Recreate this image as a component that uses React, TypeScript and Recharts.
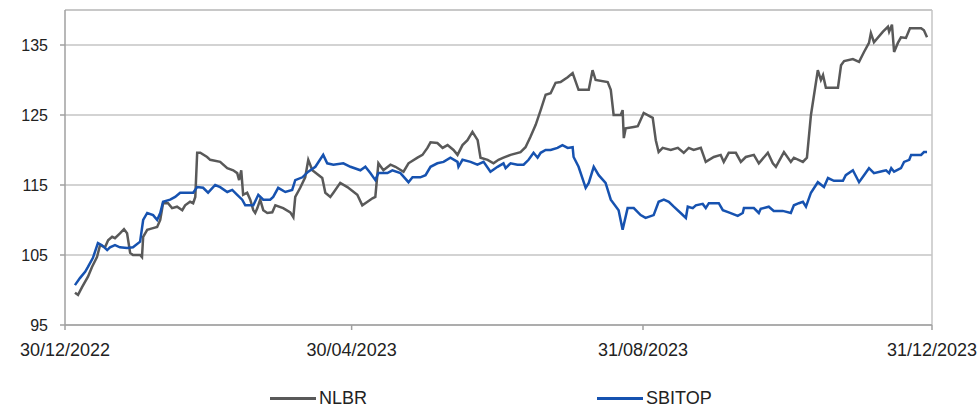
import React from 'react';
import { LineChart, Line, XAxis, YAxis, CartesianGrid, Legend, ReferenceLine } from 'recharts';

// x = days since 30/12/2022
const nlbrDays = [4.2,5.5,7.2,9.7,11.4,13.5,14.8,16.9,18.2,19.9,21.1,23.2,24.9,26.2,27.5,28.7,31.7,32.5,33,34.7,36.8,38.9,40.2,41.4,43.5,45.2,47.3,49.5,50.7,52.8,54.1,55,55.8,57.1,60,61.3,65.5,68.5,71,72.7,73.5,74.4,75.2,76.9,78.2,79.5,80.3,81.2,82.4,83.7,85.4,87.5,88.8,92.1,95.1,96.4,97.2,99.3,101.4,102.7,104.4,108.6,109.9,112,113.3,116.2,119.2,123.4,125.5,127.7,129.8,131,132.3,134.4,137.4,139.5,142.9,145,148.8,150.9,153,154.3,157.2,159.4,161.5,164,165.7,167.8,169.9,172,174.2,175.4,178.4,180.9,183,185.1,188.1,192.3,194.4,196.5,198.7,200.8,202.9,205,207.1,209.2,212.2,214.3,216.8,221.1,222.7,224,229.1,230.4,231.6,234.6,235.4,235.9,236.7,240.1,241.8,244.3,248.1,249.4,250.6,252.3,255.7,258.7,261.2,263.3,265.4,268.4,270.5,273.9,276.8,278.1,280.2,283.2,285.3,287.4,290.8,292.9,296.7,298.8,300.1,303.5,306.4,307.7,311.5,313.2,314.9,317.8,319.1,320,321.2,326.3,327.6,328.9,332.6,335.2,337.3,339.4,340.2,341.5,345.3,347.4,347.9,349.1,350,351.6,352.9,355,356.7,361.4,362.6,363.9];
const nlbrValues = [99.6,99.3,100.4,101.9,103.3,104.7,106.4,106.1,107.1,107.6,107.4,108.1,108.7,108.1,105.3,105,105,104.7,107.6,108.6,108.8,109,110,112.4,112.4,111.7,111.9,111.4,112.1,112.6,112.4,113.3,119.6,119.6,119,118.6,118.3,117.4,117.1,116.7,115.7,117.1,113.6,113.9,112.9,111.4,111,111.7,112.9,111.4,111,111.1,112.1,111.7,111.1,110.4,113.3,114.6,116.1,118.6,117.1,116,113.9,113.3,113.9,115.3,114.7,113.6,112.1,112.6,113.1,113.3,118.1,117.1,117.9,117.6,116.9,118.1,118.9,119.3,120.3,121.1,121,120.3,120.7,120,119.3,120.7,121.4,122.6,121.4,118.9,118.6,118.1,118.6,118.9,119.3,119.7,120.4,121.9,123.6,125.7,127.9,128.1,129.6,129.7,130.4,131,128.6,128.6,131.4,130,129.7,128.6,125,125,125.7,121.7,123.1,123.3,123.4,125.3,124.6,121.4,119.7,120.3,120,120.3,119.6,120.3,120,120.3,118.3,119,119.3,118.3,119.6,119.6,118.3,119,119.3,118.1,119.6,118.1,117.6,119.7,118.3,118.9,118.3,118.9,125,131.4,130,130.7,128.9,128.9,132.1,132.7,133,132.6,134,135.3,136.7,135.4,136.9,137.6,136.9,137.9,134,135.3,136.1,136,137.4,137.4,137.1,136.1];

const sbitopDays = [4.2,6.3,8.5,9.7,11.8,13.9,15.6,17.8,19,21.1,23.2,26.2,28.7,31.7,33,34.7,37.2,38.9,40.2,41.4,44.4,46.5,48.6,51.6,54.1,55.8,58.3,60.4,63.4,65.5,68.5,70.6,72.7,74.8,76.1,79.5,81.6,83.7,86.6,87.9,90,93,95.9,97.2,100.2,102.7,105.7,109,110.7,113.3,117.5,120.5,124.7,126.8,128.9,131,132.3,136.1,138.2,141.6,145,146.7,150,152.2,154.3,157.2,159.8,162.7,165.7,166.1,167.8,171.2,174.1,176.7,179.6,182.6,185.1,186,188.1,191,193.6,195.7,197.8,199.5,200.8,202.9,205,207.9,210,212.2,214.3,214.7,216.8,219.8,221.1,223.2,225.3,228.2,230.4,233.7,235.4,237.5,240.1,243,245.1,248.5,250.6,252.8,254.9,257,259.9,262.1,262.9,265,266.3,269.2,270.5,271.8,276,277.7,280.2,284,286.1,286.6,290.8,292.9,293.7,297.1,299.2,303,306.4,307.7,309.8,311.5,312.8,314.9,317.8,320.4,322.1,324.6,328.4,329.6,332.6,335.2,337.3,339.4,341.5,345.3,346.6,347.9,348.8,350,352.9,354.2,356.4,357.2,361.4,362.6,363.9];
const sbitopValues = [100.7,101.7,102.6,103.3,104.6,106.7,106.4,105.7,106.1,106.4,106.1,106,106.1,106.9,110,111,110.7,110,111,112.6,112.9,113.3,113.9,113.9,113.9,114.7,114.6,113.9,115,114.7,114,114.3,113.6,112.9,112.1,112.1,113.6,112.9,112.9,113.3,114.6,114,114.3,115.7,116.1,116.9,117.6,119.3,118.1,117.9,118.1,117.6,117.1,117.6,116.7,115.7,116.7,116.7,117.1,116.7,115.4,116.1,116.1,116.4,117.6,118.1,118.3,118.9,118.3,117.6,118.6,118.3,117.9,118.3,116.9,117.6,118.1,117.4,118.1,117.9,117.9,118.6,119.6,118.9,119.6,120,120,120.3,120.7,120.3,120.4,119,117.6,114.6,115.3,117.6,116.4,115.3,112.9,111.4,108.6,111.7,111.7,110.7,110.3,110.7,112.6,112.9,112.6,111.9,111,110.3,111.9,111.7,112.1,112.3,111.7,112.4,112.4,111.4,111.1,110.6,111,111.7,111.7,111,111.6,111.9,111.3,111.3,111,112.1,112.4,112.6,111.9,113.9,115.4,114.7,116,115.6,115.6,116.4,117.1,115.4,116.4,117.4,116.7,117,117.1,116.7,117.4,116.9,117.4,118.3,118.6,119.3,119.3,119.7,119.7];

const xTickDays = [0, 121, 244, 366];
const xTickLabels = ['30/12/2022', '30/04/2023', '31/08/2023', '31/12/2023'];
const yTicks = [95, 105, 115, 125, 135];

const nlbrData = nlbrDays.map((d, i) => ({ d, v: nlbrValues[i] }));
const sbitopData = sbitopDays.map((d, i) => ({ d, v: sbitopValues[i] }));

const FONT = '"Liberation Sans", Arial, sans-serif';
const GRAY = '#595959';
const BLUE = '#1652b0';
const GRID = '#c4c4c4';

const LegendContent = () => (
  <div style={{ position: 'relative', width: 978, height: 32, fontFamily: FONT, fontSize: 18, color: '#222' }}>
    <div style={{ position: 'absolute', left: 270, top: 8, display: 'flex', alignItems: 'center' }}>
      <span style={{ display: 'inline-block', width: 46, height: 3, background: GRAY, marginRight: 3 }} />
      <span>NLBR</span>
    </div>
    <div style={{ position: 'absolute', left: 597, top: 8, display: 'flex', alignItems: 'center' }}>
      <span style={{ display: 'inline-block', width: 46, height: 3, background: BLUE, marginRight: 3 }} />
      <span>SBITOP</span>
    </div>
  </div>
);

export default function App() {
  return (
    <div style={{ position: 'absolute', left: 0, top: 0, width: 978, height: 412, background: '#fff' }}>
      <LineChart width={978} height={412} margin={{ top: 10, right: 46, bottom: 0, left: 0 }}>
        <CartesianGrid vertical={false} stroke={GRID} strokeWidth={1.5} />
        <XAxis
          type="number"
          dataKey="d"
          domain={[0, 366]}
          ticks={xTickDays}
          tickFormatter={(v: number) => xTickLabels[xTickDays.indexOf(v)] ?? ''}
          height={55}
          tickSize={5}
          tickMargin={13}
          interval={0}
          allowDataOverflow
          stroke="#a0a0a0"
          strokeWidth={1.5}
          tick={{ fill: '#222', fontSize: 18, fontFamily: FONT }}
        />
        <YAxis
          type="number"
          domain={[95, 140]}
          ticks={yTicks}
          width={65}
          tickSize={5}
          tickMargin={12}
          interval={0}
          allowDataOverflow
          stroke="#a0a0a0"
          strokeWidth={1.5}
          tick={{ fill: '#222', fontSize: 16, fontFamily: FONT }}
        />
        <ReferenceLine y={140} stroke={GRID} strokeWidth={1.5} />
        <ReferenceLine x={366} stroke={GRID} strokeWidth={1.5} />
        <Line data={nlbrData} dataKey="v" name="NLBR" type="linear" stroke={GRAY} strokeWidth={2.5} dot={false} isAnimationActive={false} />
        <Line data={sbitopData} dataKey="v" name="SBITOP" type="linear" stroke={BLUE} strokeWidth={2.5} dot={false} isAnimationActive={false} />
        <Legend verticalAlign="bottom" height={32} wrapperStyle={{ left: 0, width: 978 }} content={() => <LegendContent />} />
      </LineChart>
    </div>
  );
}
